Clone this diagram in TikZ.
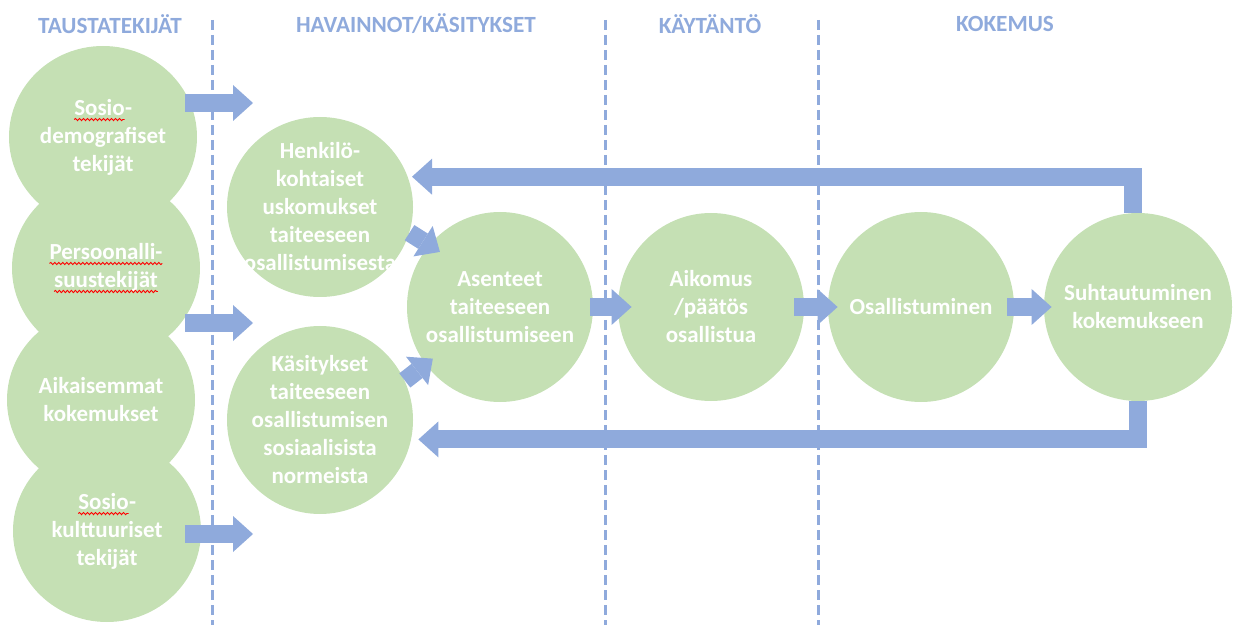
\documentclass[tikz,border=0pt]{standalone}
\usepackage{fontspec}
\setmainfont{Carlito}
\usetikzlibrary{arrows.meta,shapes.geometric,decorations.pathmorphing}
\definecolor{kuplavihrea}{HTML}{C5E0B4}
\definecolor{nuolisininen}{HTML}{8FAADC}
\newcommand{\oikolue}[1]{\tikz[baseline=(s.base)]{\node[shape=rectangle, inner sep=0pt, outer sep=0pt,
  minimum width=0pt, minimum height=0pt, fill=none, draw=none] (s) {#1};
  \draw[red, line width=0.45pt, decorate, decoration={snake, amplitude=0.55pt, segment length=2pt}]
    ([yshift=-2.2pt]s.base west) -- ([yshift=-2.2pt]s.base east);}}
\begin{document}
\begin{tikzpicture}[x=0.5pt,y=-0.5pt]
\tikzset{pallo/.style={ellipse, fill=kuplavihrea, text=white, align=center, inner sep=-6pt,
  minimum width=93pt, minimum height=94pt, font=\bfseries\fontsize{11.5}{14}\selectfont}}
\tikzset{vasen/.style={pallo, minimum width=94pt, minimum height=91pt}}
\tikzset{otsikko/.style={text=nuolisininen, font=\bfseries\fontsize{11.6}{13}\selectfont}}
\tikzset{nuoli/.style={draw=nuolisininen, line width=9pt, -{Triangle[length=10pt,width=18pt,line width=0pt]}}}
\tikzset{katko/.style={draw=nuolisininen, line width=1.5pt, dash pattern=on 5pt off 2.5pt}}
\useasboundingbox (0,0) rectangle (1235,625);
\node[otsikko] (tausta) at (110,24) {TAUSTATEKIJÄT};
\node[otsikko] (havainto) at (416,24) {HAVAINNOT/KÄSITYKSET};
\node[otsikko] (kaytanto) at (710,24) {KÄYTÄNTÖ};
\node[otsikko] (kokemus) at (1005,24) {KOKEMUS};
\node[vasen] (sosdem) at (103,137) {\oikolue{Sosio}-\\demografiset\\tekijät};
\node[vasen] (persoon) at (106,268) {\oikolue{Persoonalli-}\\\oikolue{suustekijät}};
\node[vasen] (aikais) at (101,400) {Aikaisemmat\\kokemukset};
\node[vasen] (soskult) at (107,531) {\oikolue{Sosio}-\\kulttuuriset\\tekijät};
\node[pallo, minimum height=90pt] (henk) at (320,207) {Henkilö-\\kohtaiset\\uskomukset\\taiteeseen\\osallistumisesta};
\node[pallo] (kasit) at (320,420) {Käsitykset\\taiteeseen\\osallistumisen\\sosiaalisista\\normeista};
\node[pallo, minimum height=95pt] (asent) at (500,307) {Asenteet\\taiteeseen\\osallistumiseen};
\node[pallo] (aikom) at (711,307) {Aikomus\\/päätös\\osallistua};
\node[pallo, minimum height=95pt] (osall) at (921,307) {Osallistuminen};
\node[pallo, minimum width=94pt] (suht) at (1138,307) {Suhtautuminen\\kokemukseen};
\coordinate (havainto1) at (253,103);
\coordinate (havainto2) at (253,323);
\coordinate (havainto3) at (253,534);
\draw[nuoli] ([xshift=-6pt,yshift=17pt]sosdem.east) -- (havainto1);
\draw[nuoli] ([xshift=-7.5pt,yshift=-27.5pt]persoon.east) -- (havainto2);
\draw[nuoli] ([xshift=-8pt,yshift=-1.5pt]soskult.east) -- (havainto3);
\draw[nuoli] (henk.-16) -- ([shift={(5pt,-4pt)}]asent.138);
\draw[nuoli] (kasit.25) -- ([shift={(4pt,2.5pt)}]asent.217);
\draw[nuoli] ([xshift=-1.5pt]asent.east) -- ([xshift=7pt]aikom.west);
\draw[nuoli] ([xshift=-5pt]aikom.east) -- ([xshift=5pt]osall.west);
\draw[nuoli] ([xshift=-3.5pt]osall.east) -- ([xshift=4pt]suht.west);
\draw[nuoli] ([xshift=-2.5pt]suht.north) |- ([xshift=2pt]henk.19);
\draw[nuoli] (suht.south) |- ([xshift=3.5pt]kasit.-12);
\foreach \x in {212,605,818}
  \draw[katko] (\x,20) -- (\x,625);
\end{tikzpicture}
\end{document}
